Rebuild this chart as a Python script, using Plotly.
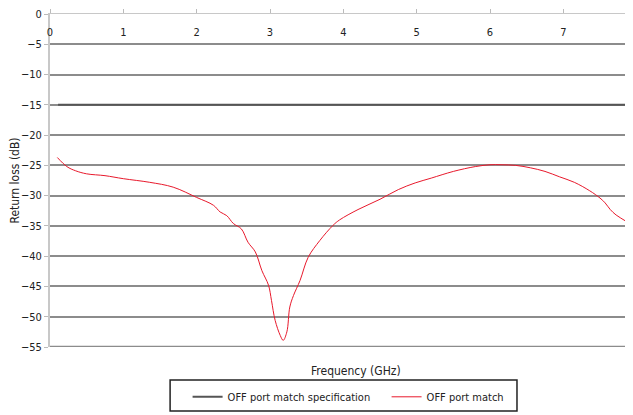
import plotly.graph_objects as go

# OFF port match
freq = [0.10, 0.23, 0.35, 0.50, 0.75, 1.00, 1.36, 1.68, 2.00, 2.23, 2.32, 2.41, 2.50, 2.61, 2.70,
        2.80, 2.89, 2.98, 3.02, 3.07, 3.14, 3.18, 3.23, 3.27, 3.32, 3.41, 3.52, 3.68, 3.86, 3.95,
        4.20, 4.50, 4.75, 4.98, 5.20, 5.50, 5.80, 6.00, 6.15, 6.35, 6.55, 6.75, 6.95, 7.15, 7.36,
        7.50, 7.57, 7.64, 7.72, 7.85, 7.95]
ret_loss = [-23.7, -25.2, -25.9, -26.4, -26.7, -27.2, -27.8, -28.6, -30.3, -31.6, -32.7, -33.3, -34.6,
            -35.5, -37.7, -39.3, -42.4, -44.8, -47.3, -50.6, -53.1, -53.9, -52.5, -48.4, -46.5, -44.0,
            -40.2, -37.4, -34.9, -34.0, -32.3, -30.6, -29.0, -27.9, -27.1, -26.0, -25.2, -24.9, -24.9,
            -25.0, -25.4, -26.0, -26.9, -27.8, -29.2, -30.4, -31.2, -32.3, -33.2, -34.2, -35.0]

spec_x = [0.11, 7.95]
spec_y = [-15, -15]

font = "DejaVu Sans Condensed, Liberation Sans Narrow, Roboto, sans-serif"

fig = go.Figure()
fig.add_trace(go.Scatter(x=spec_x, y=spec_y, mode='lines', name='OFF port match specification',
                         line=dict(color='#555555', width=2)))
fig.add_trace(go.Scatter(x=freq, y=ret_loss, mode='lines', name='OFF port match',
                         line=dict(color='#e8192c', width=1, shape='spline')))

# page body adds ~8px, so the figure is a bit smaller than the window
fig.update_layout(
    width=625, height=407,
    margin=dict(l=42, r=0, t=6, b=68),
    plot_bgcolor='white', paper_bgcolor='white',
    font=dict(family=font, size=11, color='#222222'),
    xaxis=dict(range=[0, 7.95], side='top', tickvals=[0, 1, 2, 3, 4, 5, 6, 7, 8],
               ticks='outside', ticklen=4, tickcolor='#bbbbbb', ticklabelstandoff=-31,
               ticklabeloverflow='allow',
               showgrid=False, showline=True, linecolor='#c8c8c8', linewidth=1, zeroline=False,
               automargin=False),
    yaxis=dict(range=[-55, 0], dtick=5, ticks='outside', ticklen=4, tickcolor='#bbbbbb',
               ticklabeloverflow='allow',
               showgrid=True, gridcolor='#8c8c8c', gridwidth=1.5,
               showline=True, linecolor='#c8c8c8', linewidth=2, zeroline=False, automargin=False,
               title=dict(text='Return loss (dB)', font=dict(size=12), standoff=6)),
    legend=dict(orientation='h', x=0.236, xanchor='left', y=-0.106, yanchor='top',
                bgcolor='rgba(0,0,0,0)', borderwidth=0, entrywidth=154, itemwidth=30,
                font=dict(size=11)),
    annotations=[dict(text='Frequency (GHz)', x=0.525, y=-0.045, xref='paper', yref='paper',
                      showarrow=False, font=dict(size=12), xanchor='center', yanchor='top')],
    shapes=[dict(type='line', xref='paper', yref='y', x0=0, x1=1, y0=-55, y1=-55,
                 line=dict(color='#8c8c8c', width=2.5)),
            dict(type='rect', xref='paper', yref='paper', x0=0.206, x1=0.801, y0=-0.192, y1=-0.099,
                 line=dict(color='#222222', width=1.5))],
)

fig.write_html("out.html")
